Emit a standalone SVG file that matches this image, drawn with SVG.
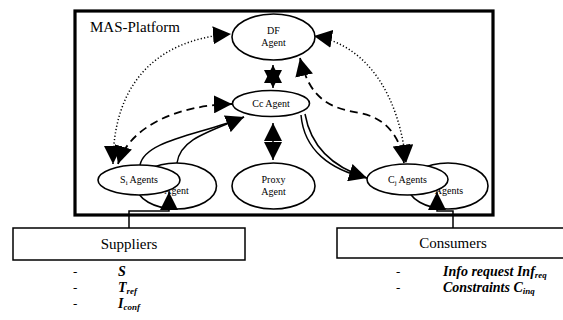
<svg xmlns="http://www.w3.org/2000/svg" width="563" height="320" viewBox="0 0 563 320" font-family="'Liberation Serif', 'Times New Roman', 'DejaVu Serif', serif">
<style>
text{font-family:'Liberation Serif','Times New Roman','DejaVu Serif',serif;fill:#000}
.node{fill:#fff;stroke:#000;stroke-width:1.6}
.lbl{font-size:10px;text-anchor:middle}
.big{font-size:15px}
.it{font-size:14px;font-style:italic;font-weight:bold}
.c{fill:none;stroke:#000;stroke-width:1.5}
.dot{stroke-dasharray:1.2 2.2}
.dash{stroke-dasharray:8 5;stroke-width:1.8}
.box{fill:#fff;stroke:#000;stroke-width:1.5}
</style>
<defs>
<marker id="ah" markerUnits="userSpaceOnUse" markerWidth="18" markerHeight="18" refX="18" refY="9" orient="auto-start-reverse" viewBox="0 0 18 18">
<path d="M0,0 L18,9 L0,18 z" fill="#000"/>
</marker>
</defs>
<rect width="563" height="320" fill="#fff"/>
<g id="platform">
<rect x="75" y="11" width="418" height="204" fill="none" stroke="#000" stroke-width="3.2"/>
<text x="90" y="32" class="big">MAS-Platform</text>
</g>
<g id="si-back"><ellipse cx="176.5" cy="186" rx="40" ry="23" class="node"/><text x="176.5" y="194" class="lbl">Agent</text></g>
<g id="cj-back"><ellipse cx="448" cy="186" rx="40" ry="23" class="node"/><text x="449" y="194" class="lbl">Agents</text></g>
<g id="connectors">
<path d="M273,65 L273,88" class="c" marker-start="url(#ah)" marker-end="url(#ah)"/>
<path d="M273,123 L273,160" class="c" marker-start="url(#ah)" marker-end="url(#ah)"/>
<path d="M113,164 C113,90 150,40 231,34" class="c dot" marker-start="url(#ah)" marker-end="url(#ah)"/>
<path d="M118,164 C130,125 180,105 232,104" class="c dash" marker-start="url(#ah)" marker-end="url(#ah)"/>
<path d="M314,36 C370,45 400,100 406,163" class="c dot" marker-start="url(#ah)" marker-end="url(#ah)"/>
<path d="M300,58 C310,100 330,108 360,113 C385,118 400,135 404,163" class="c dash" marker-start="url(#ah)" marker-end="url(#ah)"/>
<path d="M140,165 C145,140 200,135 244,117" class="c"/>
<path d="M177,163 C180,140 205,133 244,117" class="c" marker-end="url(#ah)"/>
<path d="M301,115 C304,150 330,170 367,178" class="c"/>
<path d="M305,114 C311,148 335,168 367,178" class="c" marker-end="url(#ah)"/>
<path d="M129,228 V211 H169 V192" class="c" stroke-width="1.3" marker-end="url(#ah)"/>
<path d="M453,228 V211 H437 V192" class="c" stroke-width="1.3" marker-end="url(#ah)"/>
</g>
<g id="df"><ellipse cx="273.5" cy="37" rx="41.5" ry="23" class="node"/><text x="273.5" y="34" class="lbl" font-size="9.5">DF</text><text x="273.5" y="46" class="lbl" font-size="9.5">Agent</text></g>
<g id="cc"><ellipse cx="271" cy="103.5" rx="38.5" ry="13" class="node"/><text x="271" y="107" class="lbl" font-size="10.5">Cc Agent</text></g>
<g id="proxy"><ellipse cx="273.5" cy="186" rx="41.5" ry="23" class="node"/><text x="273.5" y="183" class="lbl">Proxy</text><text x="273.5" y="195" class="lbl">Agent</text></g>
<g id="si"><ellipse cx="139" cy="180" rx="41" ry="15" class="node"/><text x="139" y="183" class="lbl" font-size="10.5">S<tspan font-size="7" dy="2">i</tspan><tspan dy="-2"> Agents</tspan></text></g>
<g id="cj"><ellipse cx="407.5" cy="179.5" rx="40.5" ry="15.5" class="node"/><text x="407.5" y="183" class="lbl" font-size="10.5">C<tspan font-size="7" dy="2">j</tspan><tspan dy="-2"> Agents</tspan></text></g>
<g id="suppliers">
<rect x="13" y="228" width="232" height="32" class="box"/>
<text x="129" y="249" class="big" text-anchor="middle">Suppliers</text>
<text x="73" y="276" font-size="13">-</text><text x="118" y="276" class="it">S</text>
<text x="73" y="292" font-size="13">-</text><text x="118" y="292" class="it">T<tspan font-size="9" dy="2">ref</tspan></text>
<text x="73" y="308" font-size="13">-</text><text x="118" y="308" class="it">I<tspan font-size="9" dy="2">conf</tspan></text>
</g>
<g id="consumers">
<rect x="337" y="228" width="240" height="30" class="box"/>
<text x="453" y="248" class="big" text-anchor="middle">Consumers</text>
<text x="396" y="276" font-size="13">-</text><text x="443" y="276" class="it">Info request Inf<tspan font-size="9" dy="2">req</tspan></text>
<text x="396" y="292" font-size="13">-</text><text x="443" y="292" class="it">Constraints C<tspan font-size="9" dy="2">inq</tspan></text>
</g>
</svg>
